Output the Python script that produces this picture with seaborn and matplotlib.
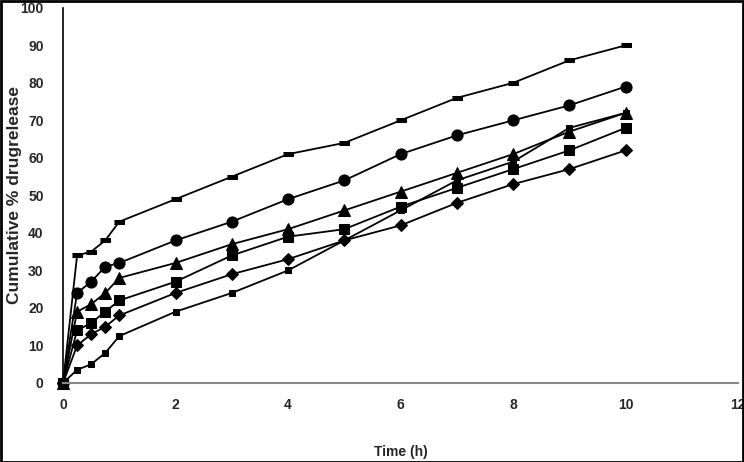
import matplotlib
matplotlib.use("Agg")
import matplotlib.pyplot as plt
import seaborn as sns
import pandas as pd
from matplotlib.patches import Rectangle

time_h = [0, 0.25, 0.5, 0.75, 1, 2, 3, 4, 5, 6, 7, 8, 9, 10]
series_dash = [0, 34, 35, 38, 43, 49, 55, 61, 64, 70, 76, 80, 86, 90]
series_circle = [0, 24, 27, 31, 32, 38, 43, 49, 54, 61, 66, 70, 74, 79]
series_triangle = [0, 19, 21, 24, 28, 32, 37, 41, 46, 51, 56, 61, 67, 72]
series_bigsquare = [0, 14, 16, 19, 22, 27, 34, 39, 41, 47, 52, 57, 62, 68]
series_diamond = [0, 10, 13, 15, 18, 24, 29, 33, 38, 42, 48, 53, 57, 62]
series_smallsquare = [0, 3.5, 5, 8, 12.5, 19, 24, 30, 38, 46, 54, 59, 68, 72]

x_ticks = [0, 2, 4, 6, 8, 10, 12]
y_ticks = [0, 10, 20, 30, 40, 50, 60, 70, 80, 90, 100]

sns.set_style("white")
plt.rcParams['font.family'] = ['Liberation Sans Narrow', 'Liberation Sans', 'DejaVu Sans']

fig = plt.figure(figsize=(7.44, 4.62), dpi=100)
ax = fig.add_axes([0.0847, 0.171, 0.9073, 0.812])

dash_marker = [(-1, -0.35), (1, -0.35), (1, 0.35), (-1, 0.35)]
styles = [
    (series_dash, dash_marker, 7),
    (series_circle, "o", 8),
    (series_triangle, "^", 8),
    (series_bigsquare, "s", 7),
    (series_diamond, "D", 6),
    (series_smallsquare, "s", 5),
]

for vals, marker, ms in styles:
    df = pd.DataFrame({"Time": time_h, "Release": vals})
    sns.lineplot(data=df, x="Time", y="Release", ax=ax, color="black",
                 linewidth=1.3, marker=marker, markersize=ms,
                 markeredgecolor="black", markerfacecolor="black", legend=False)

ax.set_xlim(0, 12)
ax.set_ylim(0, 100)
ax.set_xticks(x_ticks)
ax.set_yticks(y_ticks)
ax.set_xticklabels([str(t) for t in x_ticks], fontsize=10, fontweight="bold")
ax.set_yticklabels([str(t) for t in y_ticks], fontsize=10, fontweight="bold")
ax.set_xlabel("Time (h)", fontsize=10, fontweight="bold", labelpad=24)
ax.set_ylabel("Cumulative % drugrelease", fontsize=12.5, fontweight="bold",
              family=['Liberation Sans', 'DejaVu Sans'])
ax.yaxis.set_label_coords(-0.061, 0.5)

for s in ["top", "right"]:
    ax.spines[s].set_visible(False)
ax.spines["left"].set_color("black")
ax.spines["left"].set_linewidth(1.2)
ax.spines["bottom"].set_color("#888888")
ax.spines["bottom"].set_linewidth(1.5)
ax.tick_params(axis="y", direction="out", length=4, width=1, color="black", pad=10)
ax.tick_params(axis="x", direction="inout", length=5, width=1, color="#888888", pad=8)
for line in ax.lines:
    line.set_clip_on(False)

fig.patches.append(Rectangle((0.001, 0.001), 0.997, 0.997, transform=fig.transFigure,
                             fill=False, edgecolor="black", linewidth=2))

fig.savefig("out.png", dpi=100)
